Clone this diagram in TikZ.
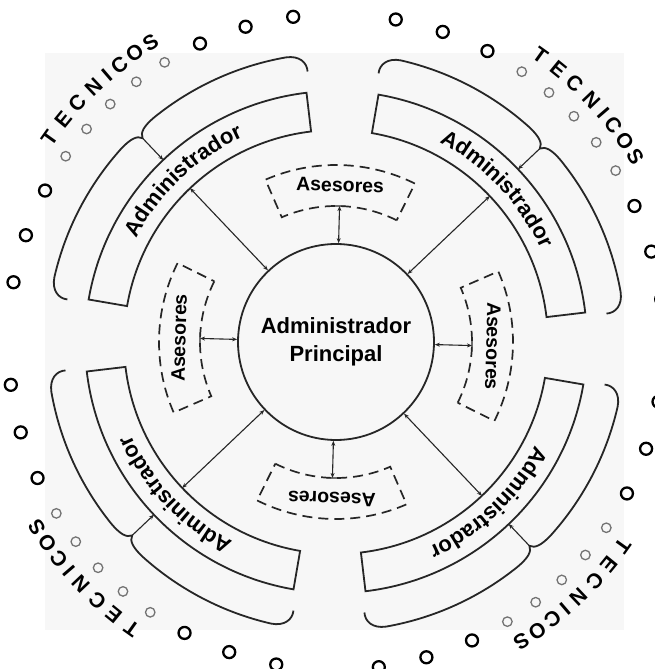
\documentclass[tikz,border=0pt]{standalone}
\usepackage{fontspec}
\newfontfamily\helv{Liberation Sans}
\usetikzlibrary{arrows.meta}
\usetikzlibrary{decorations.text}

\tikzset{
  dotbig/.style={circle,draw,line width=2.3pt,minimum size=12pt,inner sep=0pt},
  dotsmall/.style={circle,draw=black!55,line width=1.3pt,minimum size=9.5pt,inner sep=0pt},
  band/.style={draw=black!85,line width=1.8pt},
  asebox/.style={draw=black!85,line width=1.7pt,dash pattern=on 10pt off 6pt},
  link/.style={draw=black!85,line width=1.1pt,{Stealth[length=5pt,width=4pt]}-{Stealth[length=5pt,width=4pt]}},
  asetext/.style={font=\helv\bfseries\fontsize{19.5}{20}\selectfont,inner sep=0pt,transform shape},
  letter/.style={font=\helv\bfseries\fontsize{21}{21}\selectfont,inner sep=0pt,transform shape},
}

\begin{document}
\begin{tikzpicture}[x=1pt,y=1pt]
	\useasboundingbox (-336,-327) rectangle (318,342);
	\fill[black!3] (-291,-288) rectangle (288,289);
	\node[circle,band,minimum size=196pt,align=center,font=\helv\bfseries\fontsize{22}{28}\selectfont] (principal) at (0,0) {Administrador\\Principal};
	\foreach \k in {0,1,2,3}{
	\pgfmathsetmacro{\rotang}{90*\k-1.5}
	\begin{scope}[rotate=\rotang]
		% asesores
		\draw[asebox] (65:136) arc[start angle=65,end angle=115,radius=136] -- (115:177) arc[start angle=115,end angle=65,radius=177] -- cycle;
		\node[asetext] (ase\k) at (90:157) {Asesores};
		\coordinate (asein\k) at (90:136);
		\draw[draw=black!85,line width=1.2pt] (asein\k) ++(-6,0) -- ++(12,0);
		\draw[link] (asein\k) -- (principal);
		% administrador
		\draw[band] (98.25:212) arc[start angle=98.25,end angle=171.75,radius=212] -- (171.75:251) arc[start angle=171.75,end angle=98.25,radius=251] -- cycle;
		\path[decorate,decoration={text along path,text align=center,text={|\helv\bfseries\fontsize{22}{22}\selectfont|Administrador}}] (172:225) arc[start angle=172,end angle=98,radius=225];
		\coordinate (bandin\k) at (135:212);
		\coordinate (bandout\k) at (135:251);
		\coordinate (cusp\k) at (135:281);
		\draw[link] (bandin\k) -- (principal);
		% tecnicos
		\draw[band] (172.5:272) .. controls (172.6:281) and (171.2:289) .. (168.5:289) arc[start angle=168.5,end angle=139.5,radius=289] .. controls (137:289) and (135.4:287) .. (cusp\k) .. controls (134.6:287) and (133:289) .. (130.5:289) arc[start angle=130.5,end angle=101.5,radius=289] .. controls (98.8:289) and (97.4:281) .. (97.5:272);
		\draw[draw=black!85,line width=1.1pt,-{Stealth[length=5pt,width=4pt]}] (cusp\k) -- (bandout\k);
		\foreach \off [count=\i] in {-36,-27.5,-19,19,27.5,36}
			\node[dotbig] (big\k-\i) at (135+\off:328) {};
		\foreach \off [count=\i] in {-12,-6,0,6,12}
			\node[dotsmall] (small\k-\i) at (135+\off:328) {};
		\foreach \ch/\ang [count=\i] in {T/146,E/142.3,C/138.8,N/135,I/132.1,C/129.5,O/126.4,S/123.3}
			\node[letter,rotate=\ang-90] (tec\k-\i) at (\ang:352) {\ch};
	\end{scope}
	}
\end{tikzpicture}
\end{document}
